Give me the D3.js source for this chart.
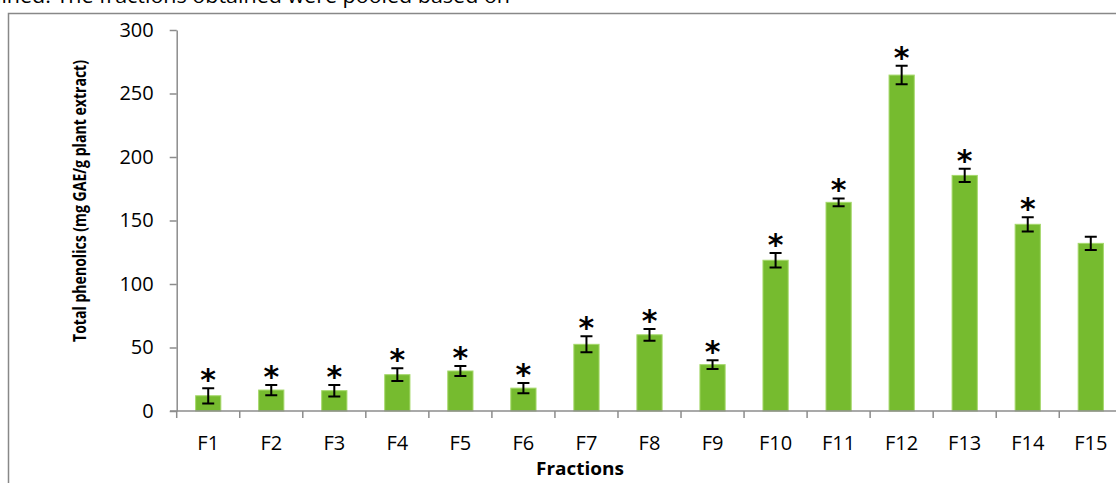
<!DOCTYPE html>
<html>
<head>
<meta charset="utf-8">
<script src="https://cdn.jsdelivr.net/npm/d3@7"></script>
<style>
  body { margin: 0; background: #fff; }
  svg { display: block; font-family: "Open Sans", sans-serif; }
</style>
</head>
<body>
<svg width="1116" height="483"></svg>
<script>
// fractions and their total phenolics (mg GAE/g plant extract)
const fractions = ["F1", "F2", "F3", "F4", "F5", "F6", "F7", "F8", "F9", "F10", "F11", "F12", "F13", "F14", "F15"];
const values = [12, 16.5, 16, 28.6, 31.5, 18, 52.5, 60, 36.5, 118.7, 164.3, 264.5, 185.5, 147, 132];
const errors = [6, 4, 4.5, 5, 4, 4, 6.3, 4.6, 3.5, 5.8, 3.1, 7.3, 5.2, 5.6, 5.2];
const significant = [1, 1, 1, 1, 1, 1, 1, 1, 1, 1, 1, 1, 1, 1, 0];
const yTicks = [0, 50, 100, 150, 200, 250, 300];

const svg = d3.select("svg");
const axisColor = "#8c8c8c";

// surrounding page text and frame
svg.append("text")
  .attr("x", -4).attr("y", 3)
  .attr("font-size", 20)
  .attr("textLength", 514)
  .attr("lengthAdjust", "spacingAndGlyphs")
  .text("lined. The fractions obtained were pooled based on");

svg.append("path")
  .attr("d", "M8.5,490 V13.5 H1120")
  .attr("fill", "none")
  .attr("stroke", "#888")
  .attr("stroke-width", 1.5);

const x = d3.scaleBand().domain(fractions).range([176.7, 1122.3]);
const y = d3.scaleLinear().domain([0, 300]).range([411, 30]);
const bw = x.bandwidth() * 0.4;

// y axis
const yAxis = svg.append("g")
  .attr("transform", "translate(176.7,0)")
  .call(d3.axisLeft(y).tickValues(yTicks).tickSize(7).tickPadding(16).tickSizeOuter(0));
yAxis.select(".domain").attr("stroke", axisColor).attr("stroke-width", 1.5);
yAxis.selectAll(".tick line").attr("stroke", axisColor).attr("stroke-width", 1.5);
yAxis.selectAll(".tick text").attr("font-size", 20).attr("font-family", "Open Sans").attr("fill", "#000");

// bars
svg.append("g").selectAll("rect")
  .data(values)
  .join("rect")
  .attr("x", (d, i) => x(fractions[i]) + (x.bandwidth() - bw) / 2)
  .attr("y", d => y(d))
  .attr("width", bw)
  .attr("height", d => y(0) - y(d))
  .attr("fill", "#76bb2f")
  .attr("stroke", "#a5d86a")
  .attr("stroke-width", 1);

// x axis (ticks between categories)
const xg = svg.append("g").attr("transform", `translate(0,${y(0)})`);
xg.append("line")
  .attr("x1", 170).attr("x2", 1122.3)
  .attr("stroke", axisColor).attr("stroke-width", 1.5);
xg.selectAll(".tk")
  .data(fractions.concat(["end"]))
  .join("line")
  .attr("class", "tk")
  .attr("x1", (d, i) => x.range()[0] + i * x.step())
  .attr("x2", (d, i) => x.range()[0] + i * x.step())
  .attr("y1", 0).attr("y2", 7)
  .attr("stroke", axisColor).attr("stroke-width", 1.5);
xg.selectAll("text")
  .data(fractions)
  .join("text")
  .attr("x", d => x(d) + x.bandwidth() / 2)
  .attr("y", 39)
  .attr("text-anchor", "middle")
  .attr("font-size", 20)
  .text(d => d);

// error bars
const eb = svg.append("g").attr("stroke", "#000").attr("stroke-width", 2).attr("fill", "none");
values.forEach((v, i) => {
  const cx = x(fractions[i]) + x.bandwidth() / 2;
  const top = y(v + errors[i]), bot = y(v - errors[i]);
  eb.append("path")
    .attr("d", `M${cx - 6},${top} H${cx + 6} M${cx},${top} V${bot} M${cx - 6},${bot} H${cx + 6}`);
});

// significance stars
svg.append("g").selectAll("text")
  .data(values.map((v, i) => ({ v, e: errors[i], s: significant[i], f: fractions[i] })).filter(d => d.s))
  .join("text")
  .attr("x", d => x(d.f) + x.bandwidth() / 2)
  .attr("y", d => y(d.v + d.e) + 2)
  .attr("text-anchor", "middle")
  .attr("font-size", 30)
  .attr("font-weight", "bold")
  .attr("font-family", "DejaVu Sans")
  .text("*");

// axis titles
svg.append("text")
  .attr("transform", "translate(86,201) rotate(-90)")
  .attr("text-anchor", "middle")
  .attr("font-size", 18)
  .attr("font-weight", "bold")
  .attr("textLength", 282)
  .attr("lengthAdjust", "spacingAndGlyphs")
  .text("Total phenolics (mg GAE/g plant extract)");

svg.append("text")
  .attr("x", 580).attr("y", 475)
  .attr("text-anchor", "middle")
  .attr("font-size", 17)
  .attr("font-weight", "bold")
  .attr("textLength", 88)
  .attr("lengthAdjust", "spacingAndGlyphs")
  .text("Fractions");
</script>
</body>
</html>
